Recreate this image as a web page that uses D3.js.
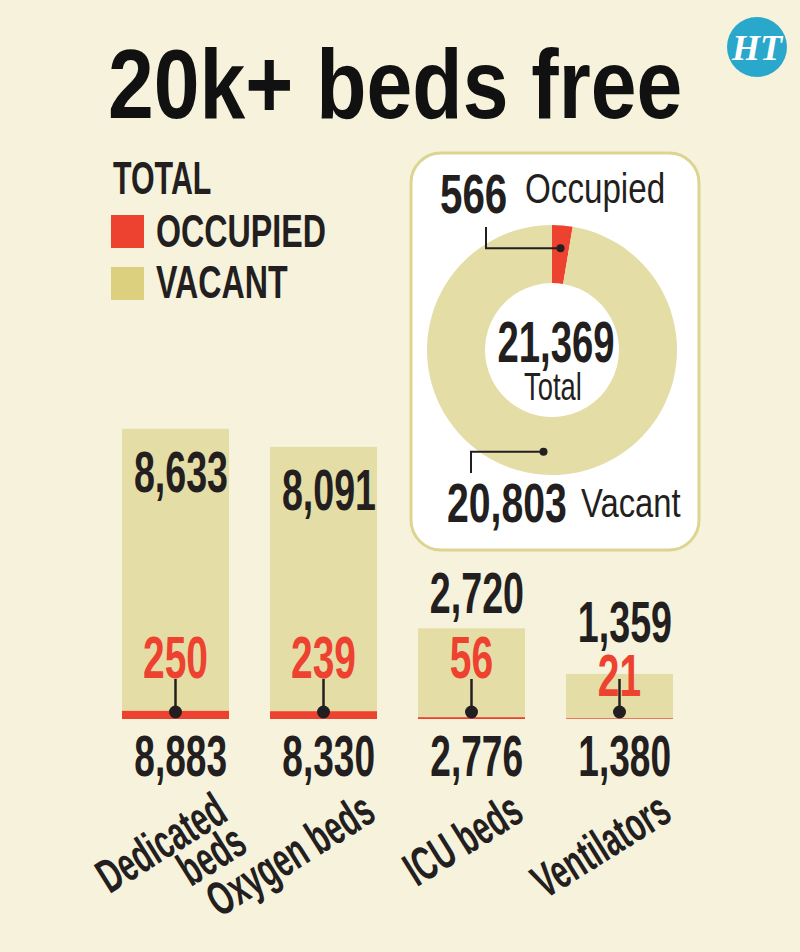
<!DOCTYPE html>
<html>
<head>
<meta charset="utf-8">
<script src="https://cdn.jsdelivr.net/npm/d3@7"></script>
<style>
  html, body { margin: 0; padding: 0; background: #f6f2dc; }
  svg { display: block; font-family: "Liberation Sans", Arial, sans-serif; }
</style>
</head>
<body>
<div id="chart"></div>
<script>
// chart values
const categories = ["Dedicated beds", "Oxygen beds", "ICU beds", "Ventilators"];
const labelLines = [["Dedicated", "beds"], ["Oxygen beds"], ["ICU beds"], ["Ventilators"]];
const occupied = [250, 239, 56, 21];
const vacant = [8633, 8091, 2720, 1359];
const totals = [8883, 8330, 2776, 1380];
const donutLabels = ["Occupied", "Vacant"];
const donutValues = [566, 20803];
const grandTotal = 21369;
const legendItems = ["OCCUPIED", "VACANT"];

const W = 800, H = 952;
const RED = "#ee4231", TAN = "#e5dda6", INK = "#231f20";
const fmt = d3.format(",");

const svg = d3.select("#chart").append("svg")
  .attr("width", W)
  .attr("height", H);

svg.append("rect").attr("width", W).attr("height", H).attr("fill", "#f6f2dc");

// text with a horizontal squeeze, the original uses a condensed face
function addText(parent, str, x, y, o) {
  const size = o.size, weight = o.weight || "bold", sx = o.sx || 0.66;
  return parent.append("text")
    .attr("transform", `translate(${x},${y}) rotate(${o.rotate || 0}) scale(${sx},1)`)
    .attr("text-anchor", o.anchor || "start")
    .attr("font-size", size)
    .attr("font-weight", weight)
    .attr("fill", o.fill || INK)
    .text(str);
}

// title
addText(svg, "20k+ beds free", 108, 118, { size: 98, sx: 0.84, fill: "#111" });

// HT logo
svg.append("circle").attr("cx", 757).attr("cy", 47).attr("r", 30).attr("fill", "#29a8cc");
svg.append("text")
  .attr("x", 757).attr("y", 60)
  .attr("text-anchor", "middle")
  .attr("font-family", "'Liberation Serif', 'DejaVu Serif', serif")
  .attr("font-style", "italic")
  .attr("font-weight", "bold")
  .attr("font-size", 36)
  .attr("fill", "#fff")
  .text("HT");

// legend
addText(svg, "TOTAL", 113, 194, { size: 46, sx: 0.66 });
const legendColors = [RED, "#dcd07f"];
legendItems.forEach((name, i) => {
  svg.append("rect")
    .attr("x", 111).attr("y", 215 + i * 52)
    .attr("width", 33).attr("height", 33)
    .attr("fill", legendColors[i]);
  addText(svg, name, 156, 247 + i * 51, { size: 46, sx: 0.7 });
});

// ---------------- donut panel ----------------
svg.append("rect")
  .attr("x", 411).attr("y", 153)
  .attr("width", 288).attr("height", 397)
  .attr("rx", 30)
  .attr("fill", "#fff")
  .attr("stroke", "#ddd48f")
  .attr("stroke-width", 3);

const cx = 552, cy = 350;
const pie = d3.pie().sort(null)(donutValues);
const arc = d3.arc().innerRadius(67).outerRadius(125);
const donut = svg.append("g").attr("transform", `translate(${cx},${cy})`);
donut.selectAll("path")
  .data(pie)
  .enter()
  .append("path")
  .attr("d", arc)
  .attr("fill", (d, i) => i === 0 ? RED : TAN);

// leader lines from the slices
const leaderR = 102;
function slicePoint(d) {
  const a = (d.startAngle + d.endAngle) / 2;
  return [cx + leaderR * Math.sin(a), cy - leaderR * Math.cos(a)];
}
const pOcc = slicePoint(pie[0]);
const pVac = slicePoint(pie[1]);
svg.append("path")
  .attr("d", `M${pOcc[0]},${pOcc[1]} H486 V227`)
  .attr("fill", "none").attr("stroke", INK).attr("stroke-width", 2);
svg.append("circle").attr("cx", pOcc[0]).attr("cy", pOcc[1]).attr("r", 4).attr("fill", INK);
svg.append("path")
  .attr("d", `M${pVac[0]},${pVac[1]} H471 V473`)
  .attr("fill", "none").attr("stroke", INK).attr("stroke-width", 2);
svg.append("circle").attr("cx", pVac[0]).attr("cy", pVac[1]).attr("r", 4).attr("fill", INK);

addText(svg, fmt(donutValues[0]), 440, 213, { size: 56, sx: 0.72 });
addText(svg, donutLabels[0], 525, 203, { size: 42, weight: "normal", sx: 0.79 });
addText(svg, fmt(donutValues[1]), 447, 522, { size: 56, sx: 0.7 });
addText(svg, donutLabels[1], 581, 517, { size: 40, weight: "normal", sx: 0.82 });
addText(svg, fmt(grandTotal), 556, 362, { size: 58, sx: 0.66, anchor: "middle" });
addText(svg, "Total", 553, 400, { size: 38, weight: "normal", sx: 0.72, anchor: "middle" });

// ---------------- bars ----------------
const x = d3.scaleBand()
  .domain(categories)
  .range([122, 673])
  .paddingInner(0.277)
  .paddingOuter(0);

const y = d3.scaleLinear()
  .domain([0, 9000])
  .range([719, 425]);

const rows = categories.map((c, i) => ({
  cat: c, occ: occupied[i], vac: vacant[i], total: totals[i]
}));

const bars = svg.append("g")
  .selectAll("g")
  .data(rows)
  .enter()
  .append("g");

// vacant part on top
bars.append("rect")
  .attr("x", d => x(d.cat))
  .attr("y", d => y(d.occ + d.vac))
  .attr("width", x.bandwidth())
  .attr("height", d => y(d.occ) - y(d.occ + d.vac))
  .attr("fill", TAN);

// occupied part at the bottom
bars.append("rect")
  .attr("x", d => x(d.cat))
  .attr("y", d => y(d.occ))
  .attr("width", x.bandwidth())
  .attr("height", d => y(0) - y(d.occ))
  .attr("fill", RED);

// where the red numbers sit
const redY = d => Math.max(y(0) - 41, y(d.occ + d.vac) + 22);

bars.each(function(d) {
  const g = d3.select(this);
  const left = x(d.cat), right = left + x.bandwidth(), mid = left + x.bandwidth() / 2;
  const top = y(d.occ + d.vac);
  const inside = y(0) - top > 200;
  const vy = inside ? top + 63 : Math.min(top - 15, redY(d) - 54);

  addText(g, fmt(d.vac), right - 1, vy, { size: 57, sx: 0.66, anchor: "end" });
  addText(g, fmt(d.occ), mid, redY(d), { size: 59, sx: 0.66, anchor: "middle", fill: RED });

  g.append("line")
    .attr("x1", mid).attr("x2", mid)
    .attr("y1", y(0) - 40).attr("y2", y(0) - 7)
    .attr("stroke", INK).attr("stroke-width", 2.5);
  g.append("circle")
    .attr("cx", mid).attr("cy", y(0) - 7).attr("r", 6.5)
    .attr("fill", INK);

  addText(g, fmt(d.total), right - 2, 776, { size: 57, sx: 0.65, anchor: "end" });
});

// category names through a bottom axis, rotated like the original
const axis = svg.append("g")
  .attr("transform", "translate(0,819)")
  .call(d3.axisBottom(x).tickSize(0).tickPadding(0));
axis.select(".domain").remove();
axis.selectAll(".tick text")
  .attr("y", 0).attr("dy", 0)
  .attr("font-family", null)
  .attr("font-size", 48)
  .attr("font-weight", "bold")
  .attr("fill", INK)
  .attr("text-anchor", "end")
  .attr("transform", `translate(${x.bandwidth() / 2 + 1},0) rotate(-32) scale(0.62,1)`)
  .each(function(c) {
    const t = d3.select(this);
    const lines = labelLines[categories.indexOf(c)];
    t.text(null);
    lines.forEach((ln, k) => {
      t.append("tspan").attr("x", 0).attr("dy", k === 0 ? 0 : 37).text(ln);
    });
  });
</script>
</body>
</html>
